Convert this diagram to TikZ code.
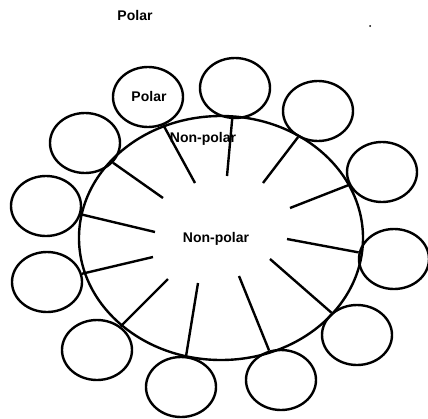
\documentclass[tikz,border=0pt]{standalone}
\usepackage{fontspec}
\setmainfont{Liberation Sans}
\usetikzlibrary{shapes.geometric}
\begin{document}
\begin{tikzpicture}[x=1pt,y=-1pt,
  head/.style={draw,ellipse,line width=2.4pt,minimum width=70pt,minimum height=60pt,inner sep=0pt},
  tail/.style={line width=2.4pt},
  lbl/.style={font=\fontsize{14}{16}\selectfont\bfseries,inner sep=0pt}]
\useasboundingbox (0,0) rectangle (428,418);
\node[lbl] (title) at (135,15) {Polar};
\fill (370,26) circle (1pt);
\node[draw,ellipse,line width=2.4pt,minimum width=284pt,minimum height=244pt,inner sep=0pt] (body) at (221,238) {};
\node[head] (h1) at (148,97) {};
\node[lbl] (plab) at (149,96) {Polar};
\node[head] (h2) at (235,88) {};
\node[head] (h3) at (318,111) {};
\node[head] (h4) at (382,172) {};
\node[head] (h5) at (394,259) {};
\node[head] (h6) at (357,335) {};
\node[head] (h7) at (281,380) {};
\node[head] (h8) at (181,387) {};
\node[head] (h9) at (97,350) {};
\node[head] (h10) at (47,282) {};
\node[head] (h11) at (46,206) {};
\node[head] (h12) at (85,143) {};
\coordinate (t1) at (195,183);
\coordinate (t2) at (227,176);
\coordinate (t3) at (263,183);
\coordinate (t4) at (290,208);
\coordinate (t5) at (287,239);
\coordinate (t6) at (270,259);
\coordinate (t7) at (239,276);
\coordinate (t8) at (198,283);
\coordinate (t9) at (168,279);
\coordinate (t10) at (153,257);
\coordinate (t11) at (155,232);
\coordinate (t12) at (163,198);
\foreach \i in {1,...,12} {\draw[tail] (h\i) -- (t\i);}
\node[lbl] (np1) at (203,139) {Non-polar};
\node[lbl] (np2) at (216,239) {Non-polar};
\end{tikzpicture}
\end{document}
